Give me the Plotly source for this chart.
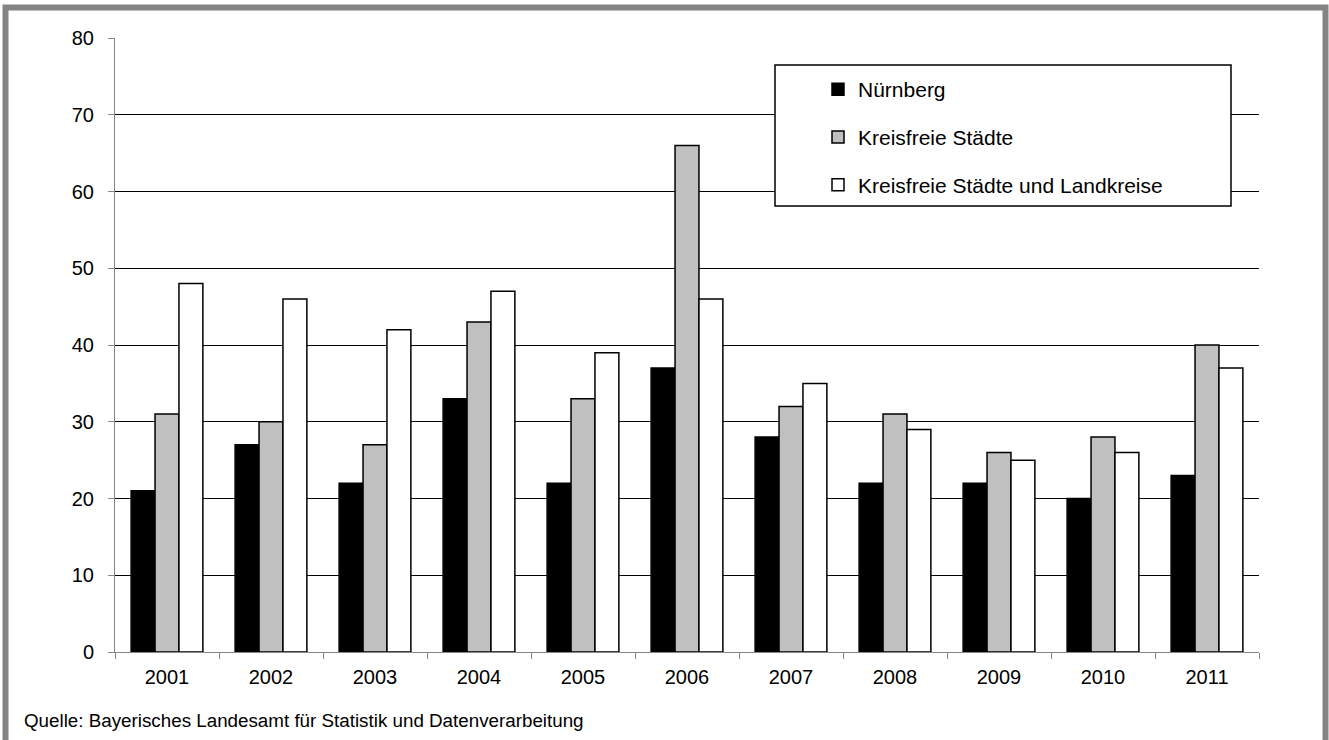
import plotly.graph_objects as go

# Jahre und Werte
years = ["2001", "2002", "2003", "2004", "2005", "2006", "2007", "2008", "2009", "2010", "2011"]
nuernberg = [21, 27, 22, 33, 22, 37, 28, 22, 22, 20, 23]
kreisfreie = [31, 30, 27, 43, 33, 66, 32, 31, 26, 28, 40]
kreisfreie_landkreise = [48, 46, 42, 47, 39, 46, 35, 29, 25, 26, 37]

series_names = ["Nürnberg", "Kreisfreie Städte", "Kreisfreie Städte und Landkreise"]
source_text = "Quelle: Bayerisches Landesamt für Statistik und Datenverarbeitung"

W, H = 1329, 740
L, R, T, B = 115, 70, 38, 88
PW, PH = W - L - R, H - T - B


def px(x):
    return (x - L) / PW


def py(y):
    return (H - B - y) / PH


family = "Liberation Sans, Arial, sans-serif"
tick_font = dict(family=family, size=20, color="black")
legend_font = dict(family=family, size=21, color="black")
source_font = dict(family=family, size=18.8, color="black")
colors = ["black", "#c0c0c0", "white"]
values = [nuernberg, kreisfreie, kreisfreie_landkreise]

fig = go.Figure()
for i, (name, vals) in enumerate(zip(series_names, values)):
    fig.add_trace(go.Bar(
        x=years, y=vals, name=name,
        legendgroup=str(i),
        marker=dict(color=colors[i], line=dict(color="black", width=1.5)),
    ))

fig.update_layout(
    width=W, height=H,
    margin=dict(l=L, r=R, t=T, b=B),
    paper_bgcolor="white", plot_bgcolor="white",
    font=tick_font,
    barmode="group", bargap=0.31, bargroupgap=0,
    legend=dict(
        x=px(818), y=py(69), xanchor="left", yanchor="top",
        bgcolor="rgba(0,0,0,0)", borderwidth=0,
        font=legend_font, tracegroupgap=17.5, traceorder="grouped",
    ),
    xaxis=dict(
        showline=True, linecolor="#868686", linewidth=1,
        ticks="outside", ticklen=6, tickcolor="#868686", tickson="boundaries",
        showgrid=False, tickfont=tick_font, ticklabelstandoff=7,
    ),
    yaxis=dict(
        range=[0, 80], dtick=10,
        showline=True, linecolor="#868686", linewidth=1,
        ticks="outside", ticklen=6, tickcolor="#868686",
        showgrid=True, gridcolor="black", gridwidth=1,
        tickfont=tick_font, ticklabelstandoff=10, zeroline=False,
    ),
    shapes=[
        # Legendenrahmen
        dict(type="rect", xref="paper", yref="paper",
             x0=px(775), x1=px(1231), y0=py(206), y1=py(65),
             line=dict(color="black", width=1.5), fillcolor="white", layer="above"),
        # grauer Rahmen um die Grafik
        dict(type="rect", xref="paper", yref="paper",
             x0=px(5.5), x1=px(1325.5), y0=py(760), y1=py(7.5),
             line=dict(color="#848484", width=6)),
    ],
    annotations=[
        dict(text=source_text, xref="paper", yref="paper",
             x=px(22), y=py(720), xanchor="left", yanchor="middle",
             showarrow=False, font=source_font),
    ],
)

fig.write_html("out.html", config={"displayModeBar": False},
               post_script="document.body.style.margin='0px';")
